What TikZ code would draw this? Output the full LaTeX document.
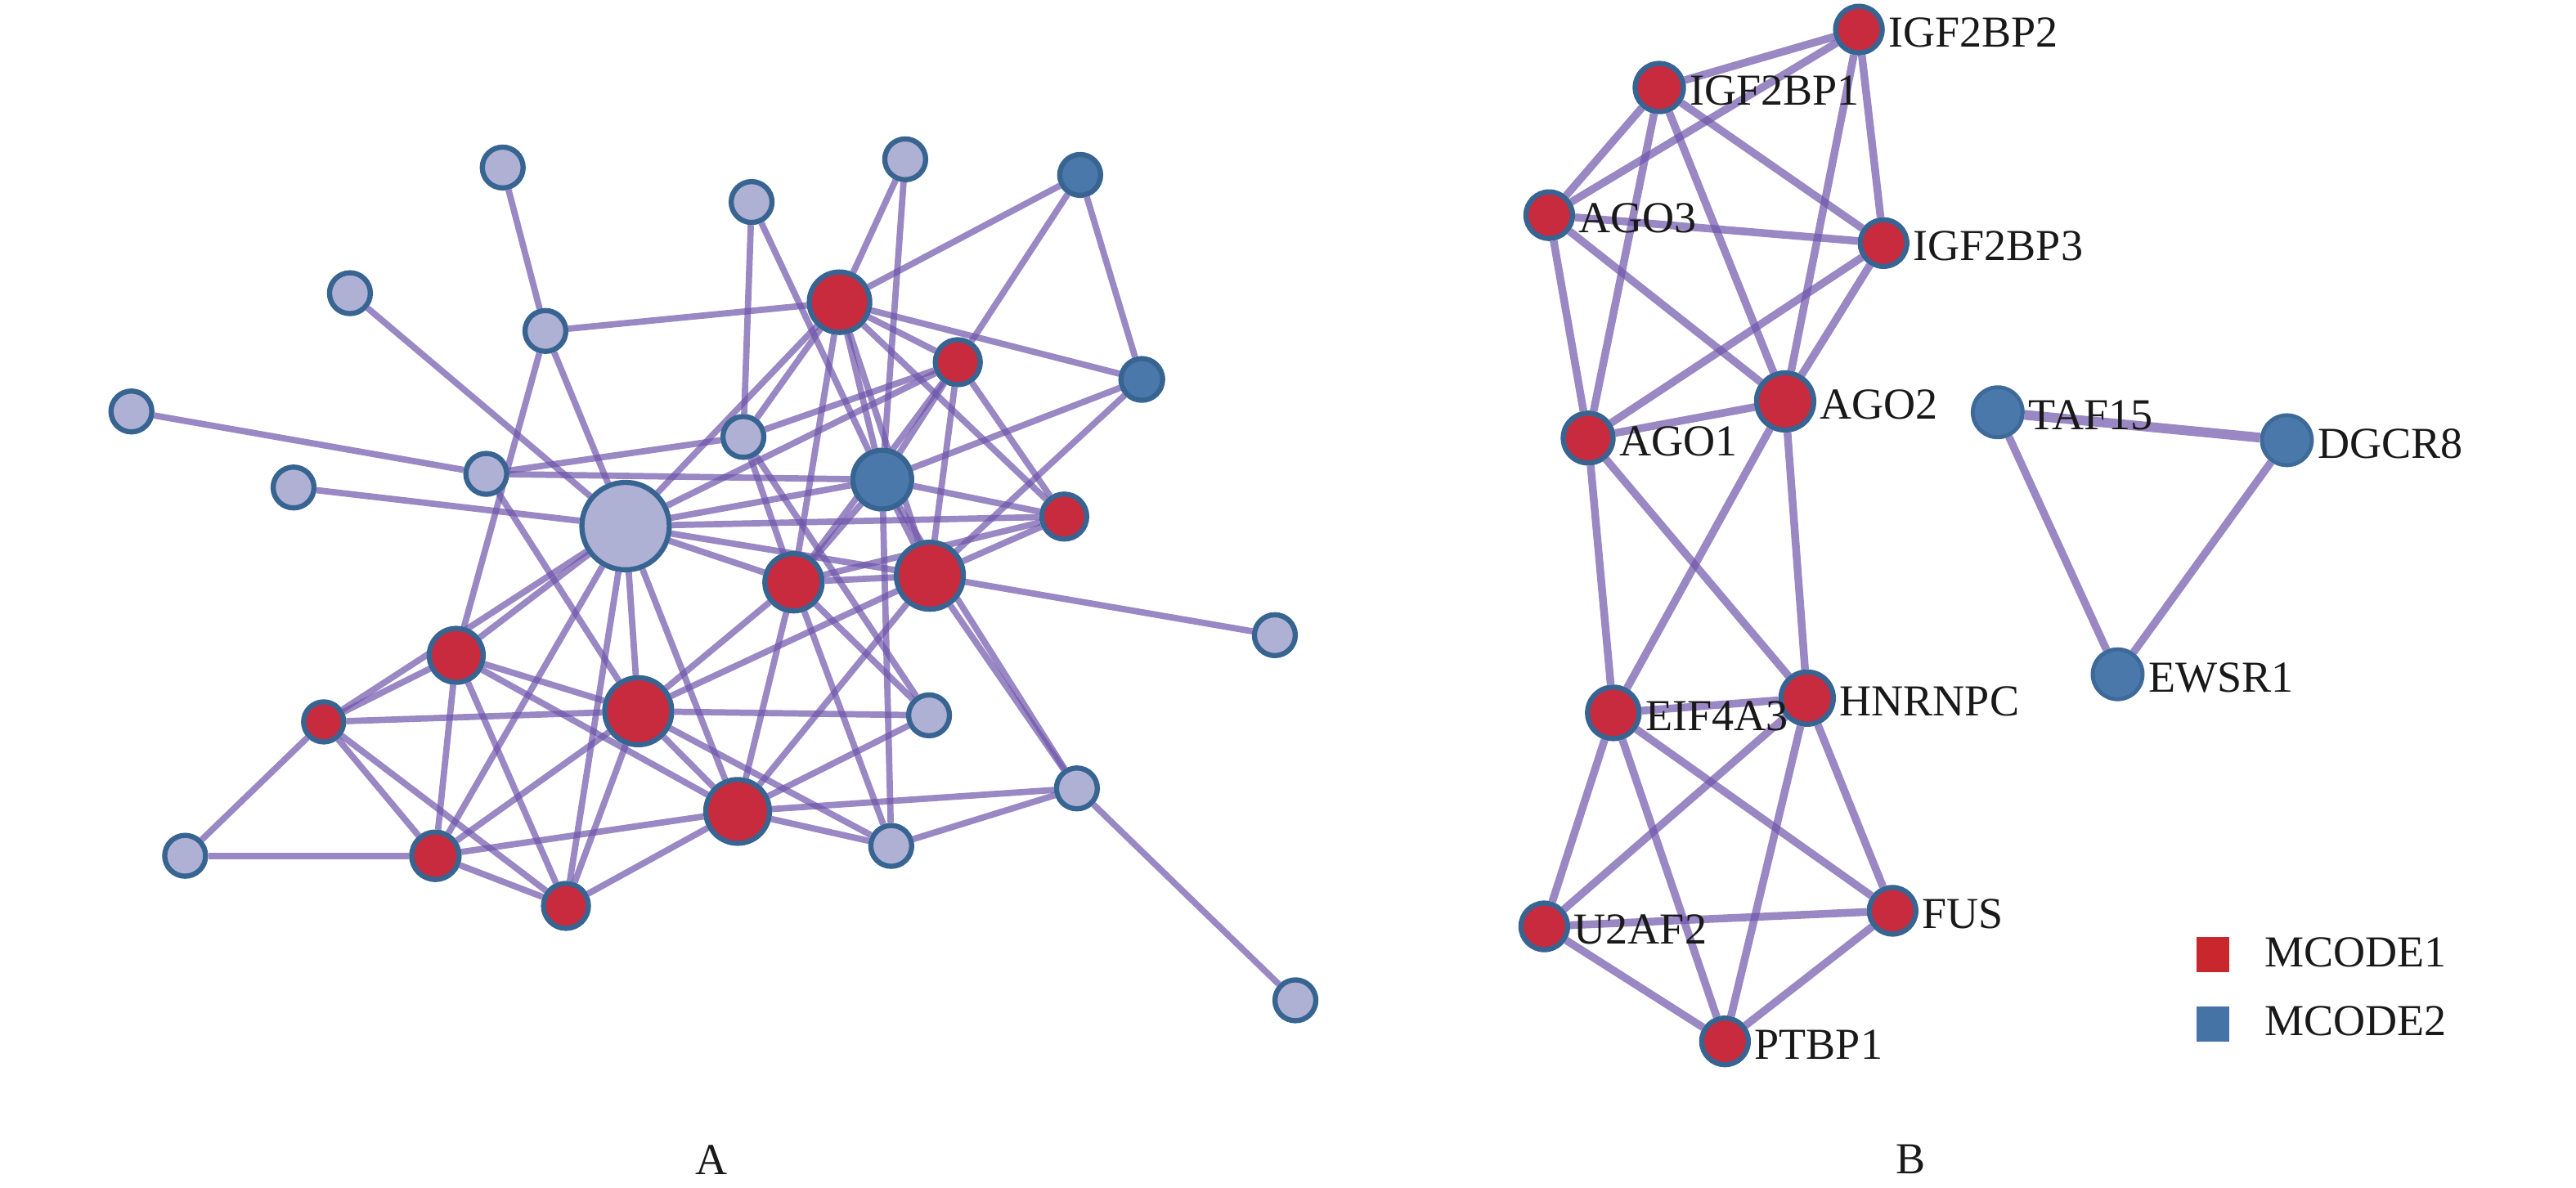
\documentclass[tikz,border=0pt]{standalone}
\usepackage{fontspec}
\setmainfont{Liberation Serif}
\pgfdeclarelayer{bg}
\pgfsetlayers{bg,main}
\definecolor{edgec}{RGB}{110,85,170}
\definecolor{redn}{RGB}{200,42,62}
\definecolor{bluen}{RGB}{74,120,171}
\definecolor{lightn}{RGB}{174,176,212}
\definecolor{bord}{RGB}{56,100,146}
\definecolor{legred}{RGB}{200,40,45}
\definecolor{legblue}{RGB}{70,115,165}
\begin{document}
\begin{tikzpicture}[x=0.02009cm,y=-0.02009cm,
  nd/.style={circle, draw=bord, line width=1.8pt, inner sep=0pt},
  lt/.style={nd, fill=lightn},
  rd/.style={nd, fill=redn},
  bl/.style={nd, fill=bluen},
  blb/.style={circle, draw=bord!70!bluen, line width=1.4pt, inner sep=0pt, fill=bluen},
  ea/.style={draw=edgec, draw opacity=0.7, line width=2.2pt},
  eb/.style={draw=edgec, draw opacity=0.7, line width=2.7pt},
  lab/.style={inner sep=0pt, font=\fontsize{15.4}{18}\selectfont, text=black!90},
  nlab/.style={lab, anchor=west, xshift=0.04cm, yshift=-0.04cm}]
\useasboundingbox (0,0) rectangle (1568,723);
% ---------------- Panel A nodes ----------------
\node[lt, minimum size=0.50cm] (l1) at (306,102) {};
\node[lt, minimum size=0.50cm] (l2) at (457.5,123) {};
\node[lt, minimum size=0.50cm] (l3) at (551,97) {};
\node[lt, minimum size=0.50cm] (l4) at (213,178.5) {};
\node[lt, minimum size=0.50cm] (l5) at (332,201.5) {};
\node[lt, minimum size=0.50cm] (l6) at (80,250.5) {};
\node[lt, minimum size=0.50cm] (l7) at (452.5,266) {};
\node[lt, minimum size=0.50cm] (l8) at (296,288.5) {};
\node[lt, minimum size=0.50cm] (l9) at (178.7,296.8) {};
\node[lt, minimum size=1.07cm] (l10) at (380.8,320.3) {};
\node[lt, minimum size=0.50cm] (l11) at (776,386.7) {};
\node[lt, minimum size=0.50cm] (l12) at (565.5,435.5) {};
\node[lt, minimum size=0.50cm] (l13) at (655.5,480) {};
\node[lt, minimum size=0.50cm] (l14) at (112.7,521) {};
\node[lt, minimum size=0.50cm] (l15) at (542.5,515) {};
\node[lt, minimum size=0.50cm] (l16) at (788.5,609) {};
\node[rd, minimum size=0.74cm] (r1) at (511,184) {};
\node[rd, minimum size=0.55cm] (r2) at (583,220.5) {};
\node[rd, minimum size=0.55cm] (r3) at (647.8,314.5) {};
\node[rd, minimum size=0.82cm] (r4) at (566,350.5) {};
\node[rd, minimum size=0.70cm] (r5) at (483,354.5) {};
\node[rd, minimum size=0.66cm] (r6) at (277.7,399) {};
\node[rd, minimum size=0.49cm] (r7) at (197,439.5) {};
\node[rd, minimum size=0.82cm] (r8) at (388.5,433) {};
\node[rd, minimum size=0.78cm] (r9) at (449,494) {};
\node[rd, minimum size=0.58cm] (r10) at (265,521) {};
\node[rd, minimum size=0.55cm] (r11) at (344.5,551.5) {};
\node[bl, minimum size=0.50cm] (b1) at (657.5,106.5) {};
\node[bl, minimum size=0.51cm] (b2) at (695,231) {};
\node[bl, minimum size=0.72cm] (b3) at (537,292) {};
% ---------------- Panel B nodes ----------------
\node[rd, minimum size=0.57cm] (igf2bp2) at (1131.5,18) {};
\node[rd, minimum size=0.59cm] (igf2bp1) at (1010,53.3) {};
\node[rd, minimum size=0.57cm] (ago3) at (943,131) {};
\node[rd, minimum size=0.57cm] (igf2bp3) at (1146.5,148) {};
\node[rd, minimum size=0.70cm] (ago2) at (1086.6,244.4) {};
\node[rd, minimum size=0.61cm] (ago1) at (966.7,266.7) {};
\node[rd, minimum size=0.63cm] (eif4a3) at (982,434) {};
\node[rd, minimum size=0.64cm] (hnrnpc) at (1100,425) {};
\node[rd, minimum size=0.57cm] (fus) at (1152,554.5) {};
\node[rd, minimum size=0.57cm] (u2af2) at (940,564) {};
\node[rd, minimum size=0.57cm] (ptbp1) at (1050,634) {};
\node[blb, minimum size=0.61cm] (taf15) at (1216,251) {};
\node[blb, minimum size=0.61cm] (dgcr8) at (1392,268) {};
\node[blb, minimum size=0.61cm] (ewsr1) at (1289,410.5) {};
% labels
\node[nlab] (tigf2bp2) at (igf2bp2.east) {IGF2BP2};
\node[nlab] (tigf2bp1) at (igf2bp1.east) {IGF2BP1};
\node[nlab] (tago3) at (ago3.east) {AGO3};
\node[nlab] (tigf2bp3) at (igf2bp3.east) {IGF2BP3};
\node[nlab] (tago2) at (ago2.east) {AGO2};
\node[nlab] (tago1) at (ago1.east) {AGO1};
\node[nlab] (teif4a3) at (eif4a3.east) {EIF4A3};
\node[nlab] (thnrnpc) at (hnrnpc.east) {HNRNPC};
\node[nlab] (tfus) at (fus.east) {FUS};
\node[nlab] (tu2af2) at (u2af2.east) {U2AF2};
\node[nlab] (tptbp1) at (ptbp1.east) {PTBP1};
\node[nlab] (ttaf15) at (taf15.east) {TAF15};
\node[nlab] (tdgcr8) at (dgcr8.east) {DGCR8};
\node[nlab] (tewsr1) at (ewsr1.east) {EWSR1};
% legend
\node[fill=legred, minimum width=0.40cm, minimum height=0.43cm, inner sep=0pt] (lgr) at (1347,581) {};
\node[fill=legblue, minimum width=0.40cm, minimum height=0.43cm, inner sep=0pt] (lgb) at (1347,623.5) {};
\node[lab, anchor=base west] (tlgr) at (1378,588.6) {MCODE1};
\node[lab, anchor=base west] (tlgb) at (1378,630.5) {MCODE2};
% panel captions
\node[lab] (capA) at (433,706) {A};
\node[lab] (capB) at (1163,706) {B};
% ---------------- edges ----------------
\begin{pgfonlayer}{bg}
\foreach \a/\b in {l1/l5, l5/l10, l4/l10, l5/r1, l5/r6, l6/l8, l9/l10, l8/l7, l8/b3, l8/r8,
  l2/l7, l2/b3, l3/r1, l3/b3, b1/r1, b1/r2, b1/b2, r1/b2, b2/b3, b2/r4,
  r2/r1, r2/r3, r2/r4, r2/b3, r2/l7, r2/l10, r2/r5, r1/r3, r1/r5, r1/r4, r1/b3, r1/l10, r1/l7,
  l7/l12, l7/r5, b3/r3, b3/r5, b3/r4, b3/l15, b3/l10, b3/l13,
  r3/l10, r3/r4, r3/r5, r4/r5, r4/l10, r4/r8, r4/r9, r4/l13, r4/l11,
  r5/l10, r5/r8, r5/r9, r5/l12, r5/l15,
  r6/r7, r6/r8, r6/r9, r6/r10, r6/r11, r6/l10,
  r7/l10, r7/r8, r7/r10, r7/r11, r7/l14, l14/r10,
  r10/l10, r10/r8, r10/r9, r10/r11, r11/l10, r11/r8, r11/r9,
  r8/l10, r8/l12, r8/r9, r8/l15, r9/l10, r9/l12, r9/l13, r9/l15, l15/l13, l13/l16}
  \draw[ea] (\a) -- (\b);
\foreach \a/\b in {igf2bp1/igf2bp2, igf2bp2/ago3, igf2bp2/ago2, igf2bp2/igf2bp3,
  igf2bp1/ago3, igf2bp1/ago1, igf2bp1/ago2, igf2bp1/igf2bp3,
  ago3/igf2bp3, ago3/ago1, ago3/ago2, igf2bp3/ago1, igf2bp3/ago2, ago1/ago2,
  ago1/eif4a3, ago1/hnrnpc, ago2/eif4a3, ago2/hnrnpc,
  eif4a3/hnrnpc, eif4a3/u2af2, eif4a3/ptbp1, eif4a3/fus,
  hnrnpc/u2af2, hnrnpc/ptbp1, hnrnpc/fus, u2af2/fus, u2af2/ptbp1, fus/ptbp1,
  taf15/ewsr1, dgcr8/ewsr1}
  \draw[eb] (\a) -- (\b);
\draw[eb, line width=3.4pt] (taf15) -- (dgcr8);
\end{pgfonlayer}
\end{tikzpicture}
\end{document}
